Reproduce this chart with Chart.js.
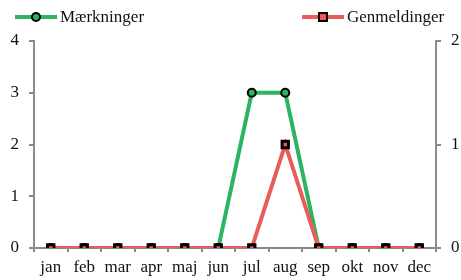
<!DOCTYPE html>
<html>
<head>
<meta charset="utf-8">
<script src="https://cdn.jsdelivr.net/npm/chart.js@4/dist/chart.umd.min.js"></script>
<style>
    html, body { margin: 0; padding: 0; background: #fff; }
    #wrap { position: relative; width: 461px; height: 280px; }
    .leg { position: absolute; top: 7px; font: 17px "Liberation Serif", "DejaVu Serif", serif; color: #111; display: flex; align-items: center; }
    .leg .ln { position: relative; width: 42px; height: 4px; margin-right: 3px; }
    .leg .mk { position: absolute; left: 16px; top: -3px; width: 6px; height: 6px; border: 2px solid #000; }
</style>
</head>
<body>
<div id="wrap">
    <canvas id="chart" width="461" height="280"></canvas>
    <div class="leg" style="left:15px;"><span class="ln" style="background:#2bb563;"><span class="mk" style="background:#2bb563; border-radius:50%;"></span></span>Mærkninger</div>
    <div class="leg" style="left:302px;"><span class="ln" style="background:#ec5b5b;"><span class="mk" style="background:#ec5b5b;"></span></span>Genmeldinger</div>
</div>
<script>
const months = ['jan', 'feb', 'mar', 'apr', 'maj', 'jun', 'jul', 'aug', 'sep', 'okt', 'nov', 'dec'];
const maerkninger = [0, 0, 0, 0, 0, 0, 3, 3, 0, 0, 0, 0];
const genmeldinger = [0, 0, 0, 0, 0, 0, 0, 1, 0, 0, 0, 0];

const axisColor = '#8a8a8a';
const font = { family: '"Liberation Serif", "DejaVu Serif", serif', size: 17 };

new Chart(document.getElementById('chart').getContext('2d'), {
    type: 'line',
    data: {
        labels: months,
        datasets: [
            {
                label: 'Mærkninger', data: maerkninger, yAxisID: 'y', order: 1,
                borderColor: '#2bb563', backgroundColor: '#2bb563', borderWidth: 4,
                pointStyle: 'circle', pointRadius: 4, pointBorderColor: '#000', pointBorderWidth: 2,
                pointBackgroundColor: '#2bb563', tension: 0
            },
            {
                label: 'Genmeldinger', data: genmeldinger, yAxisID: 'y2', order: 0,
                borderColor: '#ec5b5b', backgroundColor: '#ec5b5b', borderWidth: 4,
                pointStyle: 'rect', pointRadius: 4.5, pointBorderColor: '#000', pointBorderWidth: 3,
                pointBackgroundColor: '#ec5b5b', tension: 0
            }
        ]
    },
    options: {
        responsive: false,
        animation: false,
        layout: { padding: { top: 41, left: 0, right: 0, bottom: 0 } },
        plugins: { legend: { display: false }, tooltip: { enabled: false } },
        scales: {
            x: {
                offset: true,
                grid: { offset: true, drawOnChartArea: false, tickLength: 4, color: axisColor, lineWidth: 2 },
                border: { color: axisColor, width: 2 },
                ticks: { color: '#111', font: font, padding: 5, maxRotation: 0, autoSkip: false },
                afterFit: s => { s.height = 32; }
            },
            y: {
                position: 'left', min: 0, max: 4,
                grid: { drawOnChartArea: false, tickLength: 5, color: axisColor, lineWidth: 2 },
                border: { color: axisColor, width: 2 },
                ticks: { stepSize: 1, color: '#111', font: font, padding: 10 },
                afterFit: s => { s.width = 34; }
            },
            y2: {
                position: 'right', min: 0, max: 2,
                grid: { drawOnChartArea: false, tickLength: 5, color: axisColor, lineWidth: 2 },
                border: { color: axisColor, width: 2 },
                ticks: { stepSize: 1, color: '#111', font: font, padding: 10 },
                afterFit: s => { s.width = 25; }
            }
        }
    }
});
</script>
</body>
</html>
